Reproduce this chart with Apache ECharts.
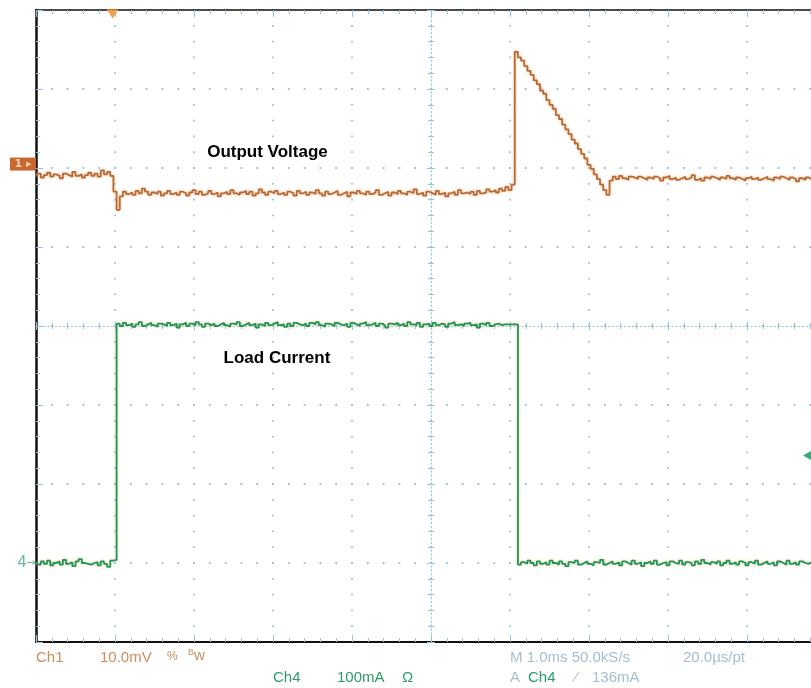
<!DOCTYPE html>
<html>
<head>
<meta charset="utf-8">
<script src="https://cdn.jsdelivr.net/npm/echarts@6/dist/echarts.min.js"></script>
<style>
  html, body { margin: 0; padding: 0; background: #ffffff; }
  #chart { width: 811px; height: 688px; }
</style>
</head>
<body>
<div id="chart"></div>
<script>
// ---- data (units: screen divisions; x: 1 div = 1.0 ms, ch1: 10 mV/div, ch4: 100 mA/div) ----
const sampleStep = 0.04;           // divisions between samples
const xDivisions = [0, 10];
const yDivisions = [-4, 4];

const ch1Output = [
  1.90, 1.93, 1.88, 1.91, 1.94, 1.89, 1.92, 1.90, 1.87, 1.93,
  1.91, 1.89, 1.95, 1.90, 1.92, 1.88, 1.91, 1.94, 1.90, 1.93,
  1.89, 1.97, 1.92, 1.95, 1.90,
  1.70, 1.47,
  1.64, 1.70, 1.67, 1.69, 1.66, 1.71, 1.68, 1.74, 1.70, 1.66,
  1.69, 1.67, 1.70, 1.65, 1.68, 1.71, 1.67, 1.69, 1.66, 1.70,
  1.68, 1.65, 1.69, 1.72, 1.67, 1.70, 1.66, 1.68, 1.71, 1.67,
  1.69, 1.64, 1.68, 1.70, 1.67, 1.72, 1.68, 1.66, 1.69, 1.71,
  1.67, 1.70, 1.65, 1.68, 1.73, 1.69, 1.66, 1.70, 1.68, 1.71,
  1.67, 1.69, 1.66, 1.70, 1.68, 1.65, 1.71, 1.68, 1.70, 1.66,
  1.69, 1.67, 1.72, 1.68, 1.65, 1.70, 1.67, 1.69, 1.71, 1.66,
  1.68, 1.70, 1.64, 1.69, 1.67, 1.71, 1.68, 1.66, 1.70, 1.67,
  1.69, 1.72, 1.66, 1.68, 1.70, 1.65, 1.69, 1.67, 1.71, 1.68,
  1.66, 1.70, 1.68, 1.73, 1.67, 1.69, 1.65, 1.70, 1.68, 1.66,
  1.71, 1.67, 1.69, 1.64, 1.68, 1.70, 1.66, 1.72, 1.68, 1.69,
  1.67, 1.70, 1.66, 1.71, 1.68, 1.69, 1.73, 1.70, 1.72, 1.69,
  1.74, 1.71, 1.76, 1.72, 1.79,
  3.47,
  3.40, 3.36, 3.29, 3.23, 3.18, 3.11, 3.06, 2.98, 2.94, 2.86,
  2.80, 2.75, 2.67, 2.62, 2.55, 2.49, 2.43, 2.36, 2.31, 2.24,
  2.18, 2.12, 2.04, 1.99, 1.92, 1.86, 1.79, 1.72, 1.66,
  1.84, 1.89, 1.86, 1.90, 1.87, 1.85, 1.89, 1.88, 1.86, 1.89,
  1.87, 1.85, 1.88, 1.86, 1.89, 1.87, 1.84, 1.88, 1.90, 1.86,
  1.88, 1.85, 1.87, 1.89, 1.86, 1.88, 1.91, 1.85, 1.87, 1.84,
  1.88, 1.86, 1.89, 1.87, 1.85, 1.88, 1.86, 1.90, 1.87, 1.85,
  1.88, 1.86, 1.84, 1.87, 1.89, 1.86, 1.88, 1.85, 1.87, 1.89,
  1.86, 1.84, 1.88, 1.86, 1.89, 1.87, 1.85, 1.88, 1.86, 1.83,
  1.87, 1.85, 1.88, 1.86, 1.84
];

const ch4Load = [
  -2.99, -3.02, -2.98, -3.01, -2.97, -3.03, -3.00, -2.98, -3.02, -2.96,
  -3.01, -2.99, -3.04, -2.98, -2.95, -3.00, -3.01, -3.02, -3.00, -2.99,
  -3.03, -2.98, -3.01, -3.05, -2.97,
  -2.96,
  0.03, 0.00, 0.04, 0.01, 0.03, -0.01, 0.02, 0.05, 0.00, 0.02,
  0.04, 0.01, -0.01, 0.03, 0.02, 0.00, 0.04, 0.01, 0.03, -0.02,
  0.02, 0.04, 0.00, 0.03, 0.01, 0.05, 0.02, -0.01, 0.03, 0.01,
  0.03, 0.00, 0.02, 0.04, 0.01, -0.01, 0.03, 0.02, 0.05, 0.00,
  0.02, 0.04, 0.01, 0.03, -0.02, 0.02, 0.00, 0.04, 0.01, 0.03,
  0.05, 0.01, 0.02, -0.01, 0.03, 0.00, 0.04, 0.02, 0.01, 0.03,
  0.00, 0.04, 0.02, 0.05, 0.01, -0.01, 0.03, 0.02, 0.00, 0.04,
  0.02, 0.01, 0.03, -0.01, 0.04, 0.02, 0.00, 0.03, 0.05, 0.01,
  0.02, 0.04, 0.00, 0.03, 0.01, -0.02, 0.03, 0.02, 0.04, 0.01,
  0.03, 0.00, 0.05, 0.02, 0.01, 0.04, -0.01, 0.02, 0.03, 0.00,
  0.04, 0.01, 0.03, 0.02, -0.01, 0.03, 0.05, 0.01, 0.02, 0.00,
  0.03, 0.04, 0.01, 0.02, -0.02, 0.03, 0.01, 0.04, 0.00, 0.02,
  0.03, 0.01, 0.02, 0.02, 0.02, 0.02, 0.02,
  -3.02, -2.99, -3.01, -2.97, -3.00, -3.03, -2.98, -3.01, -2.99, -3.02,
  -2.97, -3.00, -3.02, -2.98, -3.01, -3.04, -2.99, -3.00, -2.97, -3.02,
  -3.00, -2.98, -3.01, -3.03, -2.99, -3.00, -2.96, -3.02, -3.00, -2.98,
  -3.01, -2.99, -3.03, -2.98, -3.00, -3.02, -2.97, -3.01, -2.99, -3.04,
  -3.00, -2.98, -3.01, -2.97, -3.02, -3.00, -2.99, -3.03, -2.98, -3.00,
  -3.01, -2.97, -3.02, -2.99, -3.00, -3.03, -2.98, -3.01, -2.96, -3.00,
  -3.02, -2.99, -3.01, -2.98, -3.03, -3.00, -2.97, -3.01, -2.99, -3.02,
  -2.98, -3.00, -3.03, -2.99, -3.01, -2.97, -3.02, -3.00, -2.98, -3.01,
  -2.99, -3.03, -2.98, -3.00, -3.02, -2.97, -3.01, -2.99, -3.02, -2.98,
  -3.00, -3.01, -2.99, -3.02
];

const ch1RefLevel = 2.05;      // channel 1 ground marker
const ch4RefLevel = -3.0;      // channel 4 ground marker
const triggerTime = 0.97;      // trigger position marker
const triggerLevel = -1.64;    // 136 mA trigger level

const readoutRow1 = ['Ch1', '10.0mV', 'M 1.0ms 50.0kS/s', '20.0\u00b5s/pt'];
const readoutRow2 = ['Ch4', '100mA', '\u03a9', 'A', 'Ch4', '136mA'];

// ---- build ----
const toPairs = arr => arr.map((v, i) => [+(i * sampleStep).toFixed(3), v]);

const gridBlue = '#94c4e2';
const ch1Color = '#b86a36';
const ch4Color = '#1f9559';

function frameAxis(pos, extra) {
  return Object.assign({
    type: 'value', position: pos,
    min: pos === 'left' || pos === 'right' ? yDivisions[0] : xDivisions[0],
    max: pos === 'left' || pos === 'right' ? yDivisions[1] : xDivisions[1],
    interval: 1,
    axisLabel: { show: false },
    axisLine: { show: true, onZero: false, lineStyle: { color: '#111', width: 2 } },
    axisTick: { show: true, inside: true, length: 7, lineStyle: { color: gridBlue, width: 1 } },
    minorTick: { show: true, splitNumber: 5, length: 4, lineStyle: { color: gridBlue, width: 1 } },
    splitLine: { show: false }
  }, extra);
}

const dotted = { color: gridBlue, width: 1.8, type: [1.8, 14.0], dashOffset: 0.9 };
const centerLine = { color: gridBlue, width: 1.2, type: [1.2, 2.75] };

const chart = echarts.init(document.getElementById('chart'), null, { renderer: 'canvas' });

const textBase = { fontFamily: 'Liberation Sans', fontSize: 15 };
function txt(s, left, top, color, size) {
  return { type: 'text', left: left, top: top, silent: true,
    style: Object.assign({}, textBase, { text: s, fill: color, fontSize: size || 15 }) };
}
const c1Txt = '#c98f5c';
const c4Txt = '#2f9a68';
const mTxt = '#a5bdd1';

const centerTick = { show: true, inside: true, length: 4, lineStyle: { color: gridBlue } };
const centerMinor = { show: true, splitNumber: 5, length: 3, lineStyle: { color: gridBlue } };

chart.setOption({
  animation: false,
  backgroundColor: '#ffffff',
  grid: { left: 36, top: 10, right: -15, bottom: 46, outerBoundsMode: 'none', containLabel: false },
  xAxis: [
    frameAxis('bottom', { splitLine: { show: true, lineStyle: dotted } }),
    frameAxis('top', { axisLine: { show: true, onZero: false, lineStyle: { color: '#111', width: 1.5 } } }),
    frameAxis('bottom', { offset: -316, axisLine: { show: true, onZero: false, lineStyle: centerLine },
      axisTick: centerTick, minorTick: centerMinor }),
    frameAxis('top', { offset: -316, axisLine: { show: false }, axisTick: centerTick, minorTick: centerMinor })
  ],
  yAxis: [
    frameAxis('left', { axisLine: { show: true, onZero: false, lineStyle: { color: '#111', width: 2.5 } },
      splitLine: { show: true, lineStyle: dotted } }),
    frameAxis('left', { offset: -395, axisLine: { show: true, onZero: false, lineStyle: centerLine },
      axisTick: centerTick, minorTick: centerMinor }),
    frameAxis('right', { offset: -395, axisLine: { show: false }, axisTick: centerTick, minorTick: centerMinor })
  ],
  series: [
    {
      name: 'Output Voltage', type: 'line', xAxisIndex: 0, yAxisIndex: 0,
      data: toPairs(ch1Output), step: 'middle', showSymbol: false, symbol: 'none',
      lineStyle: { color: ch1Color, width: 1.8, shadowBlur: 3, shadowColor: 'rgba(240,170,110,0.7)' },
      z: 3,
      markPoint: {
        silent: true, animation: false,
        data: [
          { coord: [xDivisions[0], ch1RefLevel], symbol: 'rect', symbolSize: [26, 13], symbolOffset: [-13, 0],
            itemStyle: { color: '#c9672c' },
            label: { show: true, position: 'inside', formatter: '1 \u25b8', color: '#f7d2b0',
              fontSize: 11, fontWeight: 'bold', fontFamily: 'DejaVu Sans' } },
          { coord: [triggerTime, yDivisions[1]], symbol: 'triangle', symbolRotate: 180, symbolSize: [12, 9],
            symbolOffset: [0, 4], itemStyle: { color: '#f0a048' }, label: { show: false } },
          { coord: [2.93, 2.2], symbol: 'circle', symbolSize: 1, itemStyle: { color: 'rgba(0,0,0,0)' },
            label: { show: true, position: 'inside', formatter: 'Output Voltage', color: '#000',
              fontSize: 17, fontWeight: 'bold', fontFamily: 'Liberation Sans' } }
        ]
      }
    },
    {
      name: 'Load Current', type: 'line', xAxisIndex: 0, yAxisIndex: 0,
      data: toPairs(ch4Load), step: 'middle', showSymbol: false, symbol: 'none',
      lineStyle: { color: ch4Color, width: 1.8, shadowBlur: 3, shadowColor: 'rgba(235,195,120,0.7)' },
      z: 4,
      markPoint: {
        silent: true, animation: false,
        data: [
          { coord: [xDivisions[0], ch4RefLevel], symbol: 'circle', symbolSize: 1, itemStyle: { color: 'rgba(0,0,0,0)' },
            label: { show: true, position: 'left', distance: 0, formatter: '{n|4}{a|\u2192}',
              rich: { n: { fontSize: 16, color: '#63bd98', fontFamily: 'Liberation Sans' },
                      a: { fontSize: 11, color: '#63bd98', fontFamily: 'DejaVu Sans' } } } },
          { coord: [9.76, triggerLevel], symbol: 'triangle', symbolRotate: 90, symbolSize: [9, 8],
            itemStyle: { color: '#3aaa72' }, label: { show: false } },
          { coord: [3.05, -0.41], symbol: 'circle', symbolSize: 1, itemStyle: { color: 'rgba(0,0,0,0)' },
            label: { show: true, position: 'inside', formatter: 'Load Current', color: '#000',
              fontSize: 17, fontWeight: 'bold', fontFamily: 'Liberation Sans' } }
        ]
      }
    }
  ],
  graphic: [
    txt(readoutRow1[0], 36, 650, c1Txt),
    txt(readoutRow1[1], 100, 650, c1Txt),
    txt('%', 167, 651, c1Txt, 12),
    { type: 'text', left: 188, top: 648, silent: true,
      style: { text: '{b|B}{w|w}', rich: { b: { fontSize: 9, fill: c1Txt, fontFamily: 'Liberation Sans', verticalAlign: 'top' },
        w: { fontSize: 15, fill: c1Txt, fontFamily: 'Liberation Sans' } } } },
    txt(readoutRow2[0], 273, 670, c4Txt),
    txt(readoutRow2[1], 337, 670, c4Txt),
    txt(readoutRow2[2], 402, 670, c4Txt),
    txt(readoutRow1[2], 510, 650, mTxt),
    txt(readoutRow1[3], 683, 650, mTxt),
    txt(readoutRow2[3], 510, 670, mTxt),
    txt(readoutRow2[4], 528, 670, c4Txt),
    txt('\u2044', 575, 670, mTxt),
    txt(readoutRow2[5], 592, 670, mTxt)
  ]
});
</script>
</body>
</html>
